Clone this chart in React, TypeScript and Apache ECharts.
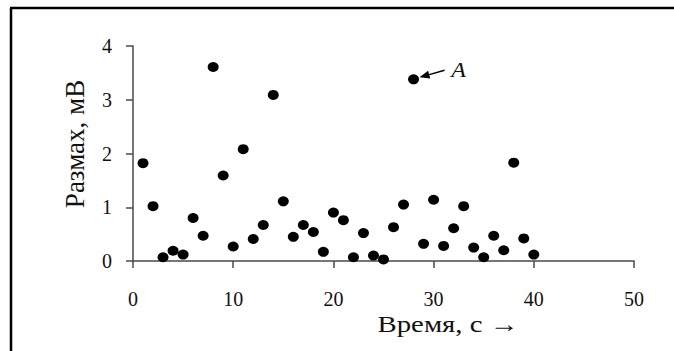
import React, { useEffect, useRef } from "react";
import * as echarts from "echarts";

const times: number[] = [1,2,3,4,5,6,7,8,9,10,11,12,13,14,15,16,17,18,19,20,21,22,23,24,25,26,27,28,29,30,31,32,33,34,35,36,37,38,39,40];
const ranges: number[] = [1.82,1.02,0.07,0.19,0.12,0.80,0.47,3.61,1.59,0.27,2.08,0.41,0.67,3.09,1.11,0.45,0.67,0.54,0.17,0.90,0.76,0.07,0.52,0.10,0.03,0.63,1.05,3.38,0.32,1.14,0.28,0.61,1.02,0.25,0.07,0.47,0.20,1.83,0.42,0.12];
const xTicks: number[] = [0, 10, 20, 30, 40, 50];
const yTicks: number[] = [0, 1, 2, 3, 4];
const annotatedIndex = 27;
const annotationLabel = "A";
const xTitle = "Время, с →";
const yTitle = "Размах, мВ";

const FONT = '"Liberation Serif", "DejaVu Serif", serif';
const AXIS_COLOR = "#4a4a4a";

export default function App() {
  const ref = useRef<HTMLDivElement>(null);
  useEffect(() => {
    if (!ref.current) return;
    const chart = echarts.init(ref.current, undefined, { renderer: "svg" });
    const data = times.map((t, i) => [t, ranges[i]]);
    chart.setOption({
      animation: false,
      backgroundColor: "#fff",
      grid: { left: 133, right: 40, top: 46, bottom: 90 },
      xAxis: {
        type: "value",
        min: xTicks[0],
        max: xTicks[xTicks.length - 1],
        interval: 10,
        splitLine: { show: false },
        axisLine: { show: true, onZero: false, lineStyle: { color: AXIS_COLOR, width: 1.5 } },
        axisTick: { show: true, inside: false, length: 7, lineStyle: { color: AXIS_COLOR, width: 1.5 } },
        axisLabel: { margin: 28, fontFamily: FONT, fontSize: 20, color: "#111" },
      },
      yAxis: {
        type: "value",
        min: yTicks[0],
        max: yTicks[yTicks.length - 1],
        interval: 1,
        splitLine: { show: false },
        axisLine: { show: true, onZero: false, lineStyle: { color: AXIS_COLOR, width: 1.5 } },
        axisTick: { show: true, inside: false, length: 7, lineStyle: { color: AXIS_COLOR, width: 1.5 } },
        axisLabel: { margin: 21, fontFamily: FONT, fontSize: 20, color: "#111" },
      },
      series: [
        {
          type: "scatter",
          data,
          symbol: "circle",
          symbolSize: [11, 10],
          itemStyle: { color: "#000", opacity: 1 },
        },
      ],
      graphic: [],
    });

    const p = chart.convertToPixel({ seriesIndex: 0 }, data[annotatedIndex]) as number[];
    const tip = [p[0] + 6, p[1] - 2];
    const tail = [p[0] + 31, p[1] - 9];
    const ang = Math.atan2(tip[1] - tail[1], tip[0] - tail[0]);
    const hl = 10, hw = 4;
    const bx = tip[0] - hl * Math.cos(ang), by = tip[1] - hl * Math.sin(ang);
    const nx = -Math.sin(ang) * hw, ny = Math.cos(ang) * hw;

    chart.setOption({
      graphic: [
        { type: "line", shape: { x1: 10, y1: 8, x2: 674, y2: 8 }, style: { stroke: "#000", lineWidth: 2.5 } },
        { type: "line", shape: { x1: 11, y1: 8, x2: 11, y2: 351 }, style: { stroke: "#000", lineWidth: 2.5 } },
        { type: "line", shape: { x1: tail[0], y1: tail[1], x2: bx, y2: by }, style: { stroke: "#000", lineWidth: 1.5 } },
        { type: "polygon", shape: { points: [[tip[0], tip[1]], [bx + nx, by + ny], [bx - nx, by - ny]] }, style: { fill: "#000" } },
        {
          type: "text", x: tail[0] + 14, y: tail[1], scaleX: 1.2, style: {
            text: annotationLabel, font: `italic 20px ${FONT}`, fill: "#111",
            textAlign: "center", textVerticalAlign: "middle",
          },
        },
        {
          type: "text", x: 448, y: 324, scaleX: 1.2, style: {
            text: xTitle, font: `24px ${FONT}`, fill: "#111",
            textAlign: "center", textVerticalAlign: "middle",
          },
        },
        {
          type: "text", x: 75, y: 144, rotation: Math.PI / 2, style: {
            text: yTitle, font: `27px ${FONT}`, fill: "#111",
            textAlign: "center", textVerticalAlign: "middle",
          },
        },
      ],
    });
    return () => chart.dispose();
  }, []);
  return <div ref={ref} style={{ width: 674, height: 351, position: "absolute", left: 0, top: 0 }} />;
}
